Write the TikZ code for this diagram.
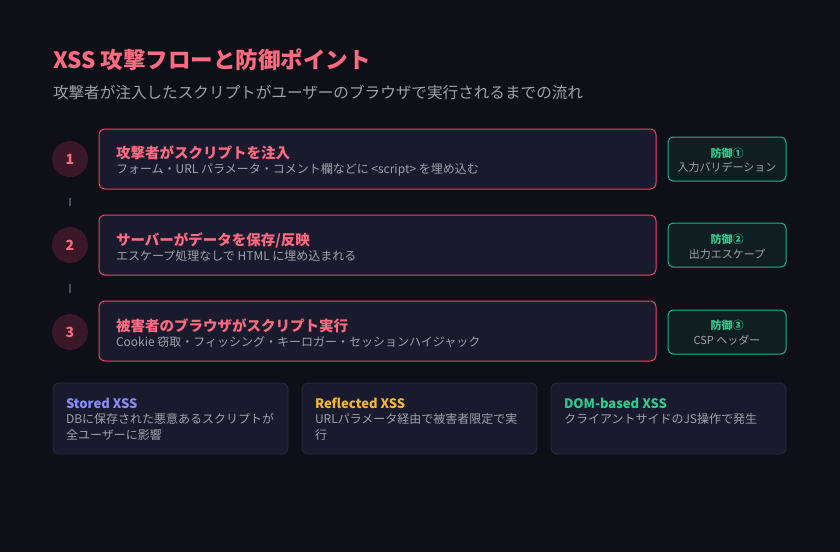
\documentclass[tikz,border=0pt]{standalone}
\usepackage{fontspec}
\setmainfont{Noto Sans CJK JP}
\begin{document}
\begin{tikzpicture}[x=1pt,y=-1pt,
  every node/.style={inner sep=0pt, outer sep=0pt},
  stepbox/.style={draw=stepborder, fill=cardbg, line width=1pt, rounded corners=6pt, minimum width=557pt, minimum height=60pt, anchor=north west},
  defbox/.style={draw=defborder, fill=defbg, line width=1pt, rounded corners=5pt, minimum width=118pt, minimum height=44pt, anchor=north west},
  card/.style={draw=cardborder, fill=cardbg, line width=0.8pt, rounded corners=6pt, minimum width=235pt, minimum height=71pt, anchor=north west},
  numc/.style={circle, fill=circfill, minimum size=36pt, text=pinktxt, font=\fontsize{14}{16}\selectfont\bfseries},
  steptitle/.style={anchor=west, text=pinktxt, font=\fontsize{14.5}{17}\selectfont\bfseries},
  stepdesc/.style={anchor=west, text=graytxt, font=\fontsize{12}{14}\selectfont},
  deftitle/.style={text=greentxt, font=\fontsize{11}{13}\selectfont\bfseries},
  defdesc/.style={text=graytxt, font=\fontsize{11}{13}\selectfont},
  cardtitle/.style={anchor=west, font=\fontsize{13}{15}\selectfont\bfseries},
  carddesc/.style={anchor=north west, align=left, text=graytxt, font=\fontsize{12}{16}\selectfont},
  dashc/.style={draw=dashcol, line width=2pt, shorten >=21pt, shorten <=21pt}
]
\definecolor{bg}{HTML}{0F0F17}
\definecolor{cardbg}{HTML}{1A1A2E}
\definecolor{cardborder}{HTML}{2A2A40}
\definecolor{stepborder}{HTML}{E94560}
\definecolor{circfill}{HTML}{3A1828}
\definecolor{pinktxt}{HTML}{FF6B81}
\definecolor{graytxt}{HTML}{A0A0AC}
\definecolor{greentxt}{HTML}{2ECC8F}
\definecolor{defborder}{HTML}{1DB584}
\definecolor{defbg}{HTML}{111E21}
\definecolor{dashcol}{HTML}{4A4A62}
\definecolor{bluetxt}{HTML}{8A8CFF}
\definecolor{ambertxt}{HTML}{F5B82E}

\fill[bg] (0,0) rectangle (840,552);
\useasboundingbox (0,0) rectangle (840,552);

\node[anchor=west, text=pinktxt, font=\fontsize{22.5}{26}\selectfont\bfseries] (title) at (53,60) {XSS 攻撃フローと防御ポイント};
\node[anchor=west, text=graytxt, font=\fontsize{15.6}{18}\selectfont] (subtitle) at (53,92) {攻撃者が注入したスクリプトがユーザーのブラウザで実行されるまでの流れ};

% step circles
\node[numc] (c1) at (70,159) {1};
\node[numc] (c2) at (70,245) {2};
\node[numc] (c3) at (70,332) {3};
\draw[dashc] (c1) -- (c2);
\draw[dashc] (c2) -- (c3);

% step boxes
\node[stepbox] (s1) at (99,129) {};
\node[steptitle] (s1t) at (116,153) {攻撃者がスクリプトを注入};
\node[stepdesc] (s1d) at (116,170) {フォーム・URL パラメータ・コメント欄などに <script> を埋め込む};

\node[stepbox] (s2) at (99,215) {};
\node[steptitle] (s2t) at (116,240) {サーバーがデータを保存/反映};
\node[stepdesc] (s2d) at (116,256) {エスケープ処理なしで HTML に埋め込まれる};

\node[stepbox] (s3) at (99,301) {};
\node[steptitle] (s3t) at (116,326) {被害者のブラウザがスクリプト実行};
\node[stepdesc] (s3d) at (116,342) {Cookie 窃取・フィッシング・キーロガー・セッションハイジャック};

% defense boxes
\node[defbox] (d1) at (668,137) {};
\node[deftitle] (d1t) at (727,153) {防御①};
\node[defdesc] (d1d) at (727,167) {入力バリデーション};

\node[defbox] (d2) at (668,223) {};
\node[deftitle] (d2t) at (727,239) {防御②};
\node[defdesc] (d2d) at (727,254) {出力エスケープ};

\node[defbox] (d3) at (668,310) {};
\node[deftitle] (d3t) at (727,325) {防御③};
\node[defdesc] (d3d) at (727,340) {CSP ヘッダー};

% bottom cards
\node[card] (k1) at (53,383) {};
\node[cardtitle, text=bluetxt] (k1t) at (66,403) {Stored XSS};
\node[carddesc] (k1d) at (66,413) {DBに保存された悪意あるスクリプトが\\全ユーザーに影響};

\node[card] (k2) at (302,383) {};
\node[cardtitle, text=ambertxt] (k2t) at (315,403) {Reflected XSS};
\node[carddesc] (k2d) at (315,413) {URLパラメータ経由で被害者限定で実\\行};

\node[card] (k3) at (551,383) {};
\node[cardtitle, text=greentxt] (k3t) at (564,403) {DOM-based XSS};
\node[carddesc] (k3d) at (564,413) {クライアントサイドのJS操作で発生};
\end{tikzpicture}
\end{document}
